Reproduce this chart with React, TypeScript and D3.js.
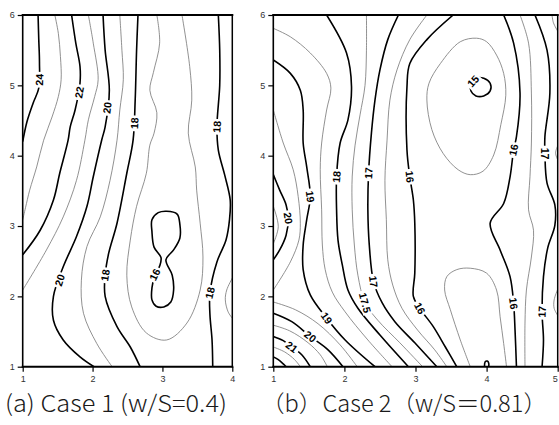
import React, { useEffect, useRef } from "react";
import * as d3 from "d3";

type Pt = [number, number];
type Contour = { level: number; pts: Pt[]; closed?: boolean; labels?: Pt[] };

// ---------------------- panel (a): Case 1, w/S = 0.4
const caseOneXTicks = [1, 2, 3, 4];
const caseOneYTicks = [1, 2, 3, 4, 5, 6];
const caseOneContours: Contour[] = [
  { level: 24, pts: [[1.22, 6.0], [1.23, 5.65], [1.24, 5.33], [1.23, 4.96], [1.15, 4.75], [1.06, 4.48], [1.0, 4.2]], labels: [[1.24, 5.08]] },
  { level: 23, pts: [[1.46, 6.0], [1.51, 5.74], [1.54, 5.41], [1.55, 5.08], [1.51, 4.84], [1.42, 4.55], [1.3, 4.22], [1.2, 3.84], [1.1, 3.51], [1.04, 3.26], [1.0, 3.09]] },
  { level: 22, pts: [[1.7, 6.0], [1.76, 5.6], [1.82, 5.27], [1.82, 5.03], [1.75, 4.65], [1.68, 4.41], [1.65, 4.22], [1.53, 3.75], [1.44, 3.37], [1.25, 2.94], [1.0, 2.59]], labels: [[1.81, 4.9]] },
  { level: 21, pts: [[1.94, 6.0], [2.01, 5.6], [2.08, 5.08], [2.03, 4.84], [1.94, 4.51], [1.89, 4.22], [1.77, 3.65], [1.58, 3.13], [1.34, 2.66], [1.0, 2.09]] },
  { level: 20, pts: [[2.15, 6.0], [2.18, 5.5], [2.24, 4.93], [2.18, 4.41], [2.13, 4.22], [2.01, 3.7], [1.92, 3.28], [1.77, 2.85], [1.58, 2.42], [1.44, 2.0], [1.44, 1.66], [1.58, 1.38], [1.82, 1.14], [2.02, 1.0]], labels: [[2.21, 4.68], [1.53, 2.23]] },
  { level: 19, pts: [[2.39, 6.0], [2.42, 5.5], [2.44, 5.08], [2.39, 4.65], [2.35, 4.22], [2.25, 3.65], [2.11, 3.13], [1.92, 2.71], [1.84, 2.23], [1.87, 1.76], [2.06, 1.33], [2.28, 1.0]] },
  { level: 18, pts: [[2.65, 6.0], [2.63, 5.5], [2.61, 4.79], [2.58, 4.22], [2.49, 3.75], [2.35, 3.04], [2.23, 2.61], [2.18, 2.3], [2.18, 2.0], [2.35, 1.57], [2.54, 1.28], [2.68, 1.0]], labels: [[2.6, 4.46], [2.18, 2.3]] },
  { level: 17, pts: [[2.92, 6.0], [2.96, 5.6], [2.87, 5.18], [2.82, 4.93], [2.92, 4.61], [2.88, 4.32], [2.82, 4.15], [2.77, 3.75], [2.63, 3.28], [2.54, 2.8], [2.49, 2.3], [2.56, 1.85], [2.77, 1.48], [3.06, 1.38], [3.35, 1.62], [3.54, 2.09], [3.58, 2.56], [3.54, 3.04], [3.49, 3.51], [3.47, 3.84], [3.37, 4.32], [3.42, 4.79], [3.39, 5.27], [3.28, 6.0]] },
  { level: 16, closed: true, pts: [[3.06, 3.21], [3.21, 3.17], [3.25, 3.02], [3.25, 2.83], [3.16, 2.66], [3.05, 2.52], [3.14, 2.3], [3.16, 2.09], [3.12, 1.92], [3.02, 1.85], [2.91, 1.86], [2.85, 1.95], [2.85, 2.12], [2.89, 2.29], [2.96, 2.43], [2.98, 2.55], [2.88, 2.7], [2.85, 2.92], [2.85, 3.09], [2.94, 3.19]], labels: [[2.89, 2.31]] },
  { level: 18, pts: [[3.8, 6.0], [3.82, 5.5], [3.82, 5.0], [3.78, 4.41], [3.8, 4.08], [3.89, 3.73], [3.97, 3.37], [3.96, 3.09], [3.91, 2.8], [3.78, 2.49], [3.68, 2.05], [3.68, 1.74], [3.71, 1.38], [3.72, 1.0]], labels: [[3.78, 4.41], [3.68, 2.05]] },
  { level: 19, pts: [[4.0, 2.26], [3.92, 2.09], [3.9, 1.95], [3.94, 1.78], [4.0, 1.69]] },
];

// ---------------------- panel (b): Case 2, w/S = 0.81
const caseTwoXTicks = [1, 2, 3, 4, 5];
const caseTwoYTicks = [1, 2, 3, 4, 5, 6];
const caseTwoContours: Contour[] = [
  { level: 18.5, pts: [[1.0, 5.81], [1.24, 5.69], [1.52, 5.46], [1.75, 5.17], [1.81, 4.96], [1.75, 4.65], [1.68, 4.18], [1.66, 3.8], [1.68, 3.23], [1.69, 2.73], [1.73, 2.38], [1.83, 2.06], [2.01, 1.78], [2.33, 1.38], [2.67, 1.0]] },
  { level: 19, pts: [[1.0, 5.36], [1.24, 5.17], [1.38, 4.93], [1.42, 4.65], [1.42, 4.18], [1.47, 3.84], [1.52, 3.42], [1.47, 3.09], [1.42, 2.73], [1.42, 2.38], [1.52, 2.02], [1.75, 1.69], [2.01, 1.38], [2.43, 1.0]], labels: [[1.52, 3.42], [1.75, 1.69]] },
  { level: 19.5, pts: [[1.0, 4.65], [1.14, 4.18], [1.28, 3.8], [1.35, 3.42], [1.38, 3.04], [1.36, 2.8], [1.24, 2.49], [1.0, 2.09]] },
  { level: 20, pts: [[1.0, 3.73], [1.09, 3.51], [1.18, 3.3], [1.21, 3.11], [1.18, 2.87], [1.09, 2.66], [1.0, 2.52]], labels: [[1.21, 3.11]] },
  { level: 20.5, pts: [[1.0, 3.28], [1.07, 2.99], [1.0, 2.75]] },
  { level: 18, pts: [[1.75, 6.0], [2.03, 5.46], [2.1, 4.98], [2.05, 4.51], [1.94, 4.18], [1.89, 3.7], [1.89, 3.23], [1.91, 2.8], [1.97, 2.45], [2.05, 2.09], [2.19, 1.83], [2.5, 1.45], [2.9, 1.0]], labels: [[1.89, 3.7]] },
  { level: 17.5, pts: [[2.31, 6.0], [2.31, 5.5], [2.29, 5.0], [2.22, 4.58], [2.15, 4.15], [2.11, 3.71], [2.11, 3.23], [2.14, 2.73], [2.19, 2.3], [2.29, 1.91], [2.47, 1.66], [2.78, 1.34], [3.1, 1.0]], labels: [[2.29, 1.91]] },
  { level: 17, pts: [[2.76, 6.0], [2.61, 5.65], [2.5, 5.22], [2.43, 4.79], [2.38, 4.32], [2.34, 3.75], [2.33, 3.23], [2.35, 2.73], [2.41, 2.21], [2.53, 1.91], [2.71, 1.64], [2.99, 1.34], [3.3, 1.0]], labels: [[2.34, 3.75], [2.41, 2.21]] },
  { level: 16.5, pts: [[3.16, 6.0], [2.92, 5.65], [2.74, 5.22], [2.64, 4.79], [2.6, 4.22], [2.57, 3.65], [2.59, 3.09], [2.61, 2.52], [2.68, 2.16], [2.81, 1.83], [3.03, 1.52], [3.27, 1.24], [3.44, 1.0]] },
  { level: 16, pts: [[3.53, 6.0], [3.16, 5.65], [2.92, 5.31], [2.88, 4.98], [2.88, 4.08], [2.92, 3.7], [2.97, 3.37], [2.99, 3.04], [2.99, 2.33], [2.97, 2.0], [3.06, 1.83], [3.25, 1.57], [3.42, 1.28], [3.58, 1.0]], labels: [[2.92, 3.7], [3.06, 1.83]] },
  { level: 19.5, pts: [[1.0, 1.92], [1.31, 1.81], [1.63, 1.61], [1.94, 1.31], [2.18, 1.0]] },
  { level: 20, pts: [[1.0, 1.76], [1.26, 1.64], [1.52, 1.43], [1.77, 1.24], [1.98, 1.0]], labels: [[1.52, 1.43]] },
  { level: 20.5, pts: [[1.0, 1.59], [1.23, 1.51], [1.49, 1.34], [1.66, 1.17], [1.76, 1.0]] },
  { level: 21, pts: [[1.0, 1.43], [1.14, 1.37], [1.26, 1.28], [1.4, 1.17], [1.52, 1.0]], labels: [[1.26, 1.28]] },
  { level: 21.5, pts: [[1.0, 1.28], [1.16, 1.21], [1.3, 1.1], [1.38, 1.0]] },
  { level: 22, pts: [[1.0, 1.14], [1.07, 1.1], [1.14, 1.04], [1.18, 1.0]] },
  { level: 16, pts: [[4.24, 6.0], [4.38, 5.6], [4.47, 4.89], [4.42, 4.27], [4.38, 4.08], [4.33, 3.7], [4.24, 3.32], [4.05, 3.04], [4.19, 2.66], [4.33, 2.28], [4.38, 1.9], [4.4, 1.52], [4.42, 1.0]], labels: [[4.38, 4.08], [4.38, 1.9]] },
  { level: 16.5, pts: [[4.47, 6.0], [4.59, 5.6], [4.63, 4.89], [4.63, 4.18], [4.61, 3.7], [4.59, 3.23], [4.66, 2.94], [4.63, 2.56], [4.56, 2.09], [4.54, 1.62], [4.54, 1.0]] },
  { level: 17, pts: [[4.68, 6.0], [4.85, 5.5], [4.89, 4.89], [4.82, 4.27], [4.82, 4.03], [4.85, 3.61], [4.96, 3.3], [4.96, 3.01], [4.86, 2.69], [4.8, 2.28], [4.78, 1.78], [4.8, 1.38], [4.78, 1.0]], labels: [[4.82, 4.03], [4.78, 1.78]] },
  { level: 17.5, pts: [[4.92, 6.0], [4.94, 5.89], [5.0, 5.77]] },
  { level: 17.5, pts: [[5.0, 4.14], [4.97, 4.04], [5.0, 3.94]] },
  { level: 17.5, pts: [[5.0, 2.1], [4.95, 1.95], [4.95, 1.83], [5.0, 1.73]] },
  { level: 15.5, closed: true, pts: [[3.86, 5.67], [4.0, 5.62], [4.14, 5.43], [4.24, 5.17], [4.27, 4.86], [4.2, 4.44], [4.1, 4.01], [3.95, 3.78], [3.77, 3.73], [3.6, 3.8], [3.39, 4.03], [3.23, 4.37], [3.16, 4.79], [3.19, 5.03], [3.35, 5.31], [3.63, 5.62]] },
  { level: 15, closed: true, pts: [[3.78, 5.02], [3.85, 5.1], [3.96, 5.1], [4.05, 5.03], [4.05, 4.92], [3.96, 4.85], [3.85, 4.85], [3.78, 4.92]], labels: [[3.81, 5.06]] },
  { level: 15.5, pts: [[3.77, 1.0], [3.63, 1.38], [3.49, 1.81], [3.41, 2.09], [3.44, 2.28], [3.58, 2.38], [3.77, 2.4], [4.0, 2.33], [4.14, 2.09], [4.19, 1.71], [4.24, 1.33], [4.28, 1.0]] },
  { level: 15, pts: [[3.97, 1.0], [3.98, 1.07], [4.01, 1.08], [4.03, 1.05], [4.03, 1.0]] },
];

const captions = ["(a) Case 1 (w/S=0.4)", "（b）Case 2（w/S＝0.81）"];

const FONT = "'Liberation Sans', Arial, sans-serif";

const App = () => {
  const svgRef = useRef<SVGSVGElement>(null);

  useEffect(() => {
    const svg = d3.select(svgRef.current);
    svg.selectAll("*").remove();

    const panels = [
      { id: "pa", left: 22.7, right: 232.3, xTicks: caseOneXTicks, yTicks: caseOneYTicks, contours: caseOneContours, major: (v: number) => v % 2 === 0 },
      { id: "pb", left: 273.3, right: 557.7, xTicks: caseTwoXTicks, yTicks: caseTwoYTicks, contours: caseTwoContours, major: (v: number) => Number.isInteger(v) },
    ];
    const top = 15;
    const bottom = 366.7;

    panels.forEach(p => {
      const x = d3.scaleLinear().domain(d3.extent(p.xTicks) as [number, number]).range([p.left, p.right]);
      const y = d3.scaleLinear().domain(d3.extent(p.yTicks) as [number, number]).range([bottom, top]);
      const g = svg.append("g");

      g.append("clipPath").attr("id", p.id + "-clip")
        .append("rect").attr("x", p.left).attr("y", top)
        .attr("width", p.right - p.left).attr("height", bottom - top);

      const open = d3.line<Pt>().x(d => x(d[0])).y(d => y(d[1])).curve(d3.curveCatmullRom.alpha(0.5));
      const closed = d3.line<Pt>().x(d => x(d[0])).y(d => y(d[1])).curve(d3.curveCatmullRomClosed.alpha(0.5));

      // ------------- contour lines
      const lines = g.append("g").attr("clip-path", `url(#${p.id}-clip)`);
      lines.selectAll("path")
        .data(p.contours)
        .join("path")
        .attr("d", c => (c.closed ? closed : open)(c.pts))
        .attr("fill", "none")
        .attr("stroke", c => (p.major(c.level) ? "#000" : "#7d7d7d"))
        .attr("stroke-width", c => (p.major(c.level) ? 1.6 : 0.85))
        .attr("stroke-linejoin", "round");

      // ------------- contour labels
      const labelLayer = g.append("g");
      p.contours.forEach(c => {
        (c.labels || []).forEach(lp => {
          const px = x(lp[0]);
          const py = y(lp[1]);
          const P = c.pts.map(q => [x(q[0]), y(q[1])]);
          const segs: [number[], number[]][] = [];
          for (let i = 0; i < P.length - 1; i++) segs.push([P[i], P[i + 1]]);
          if (c.closed) segs.push([P[P.length - 1], P[0]]);
          let best = Infinity;
          let ang = 0;
          segs.forEach(([a, b]) => {
            const dx = b[0] - a[0];
            const dy = b[1] - a[1];
            const len2 = dx * dx + dy * dy || 1;
            const t = Math.max(0, Math.min(1, ((px - a[0]) * dx + (py - a[1]) * dy) / len2));
            const d = Math.hypot(a[0] + t * dx - px, a[1] + t * dy - py);
            if (d < best) {
              best = d;
              ang = Math.atan2(dy, dx);
            }
          });
          let deg = (ang * 180) / Math.PI;
          if (deg > 90) deg -= 180;
          if (deg <= -90) deg += 180;
          const lg = labelLayer.append("g").attr("transform", `translate(${px},${py}) rotate(${deg})`);
          const rect = lg.append("rect").attr("fill", "#fff");
          const txt = lg.append("text")
            .text(String(c.level))
            .attr("text-anchor", "middle")
            .attr("dy", "0.36em")
            .attr("font-family", FONT)
            .attr("font-weight", "bold")
            .attr("font-size", 10.5)
            .attr("fill", "#000");
          const w = (txt.node() as SVGTextElement).getComputedTextLength();
          rect.attr("x", -w / 2 - 2).attr("y", -5).attr("width", w + 4).attr("height", 10);
        });
      });

      // ------------- axes
      const xa = g.append("g")
        .attr("transform", `translate(0,${bottom})`)
        .call(d3.axisBottom(x).tickValues(p.xTicks).tickSize(5).tickPadding(4).tickFormat(d3.format("d")));
      const ya = g.append("g")
        .attr("transform", `translate(${p.left},0)`)
        .call(d3.axisLeft(y).tickValues(p.yTicks).tickSize(5).tickPadding(3).tickFormat(d3.format("d")));
      [xa, ya].forEach(a => {
        a.select(".domain").remove();
        a.attr("font-family", FONT).attr("font-size", 9);
        a.selectAll("text").attr("fill", "#333");
        a.selectAll("line").attr("stroke", "#000").attr("stroke-width", 1.2);
      });
      // keep the last x tick label inside the picture
      xa.selectAll<SVGTextElement, number>("text")
        .filter(d => x(d) > 552)
        .attr("dx", -3);

      // ------------- frame
      const frame = [
        { x1: p.left, y1: top, x2: p.right, y2: top, w: 2 },
        { x1: p.right, y1: top, x2: p.right, y2: bottom, w: 1.5 },
        { x1: p.left, y1: top, x2: p.left, y2: bottom, w: 1.6 },
        { x1: p.left, y1: bottom, x2: p.right, y2: bottom, w: 2 },
      ];
      g.append("g").selectAll("line").data(frame).join("line")
        .attr("x1", d => d.x1).attr("y1", d => d.y1)
        .attr("x2", d => d.x2).attr("y2", d => d.y2)
        .attr("stroke", "#000").attr("stroke-width", d => d.w)
        .attr("stroke-linecap", "square");
    });

    // ------------- captions
    const capPos = [
      { x: 5, len: 222 },
      { x: 261, len: 286 },
    ];
    svg.append("g").selectAll("text").data(captions).join("text")
      .attr("x", (d, i) => capPos[i].x)
      .attr("y", 412)
      .attr("textLength", (d, i) => capPos[i].len)
      .attr("lengthAdjust", "spacingAndGlyphs")
      .attr("font-family", "'Noto Sans CJK KR', 'Noto Sans', sans-serif")
      .attr("font-weight", 300)
      .attr("font-size", 23)
      .attr("fill", "#1a1a1a")
      .text(d => d);
  }, []);

  return (
    <div style={{ position: "absolute", left: 0, top: 0, background: "#fff" }}>
      <svg ref={svgRef} width={559} height={425} style={{ display: "block" }} />
    </div>
  );
};

export default App;
